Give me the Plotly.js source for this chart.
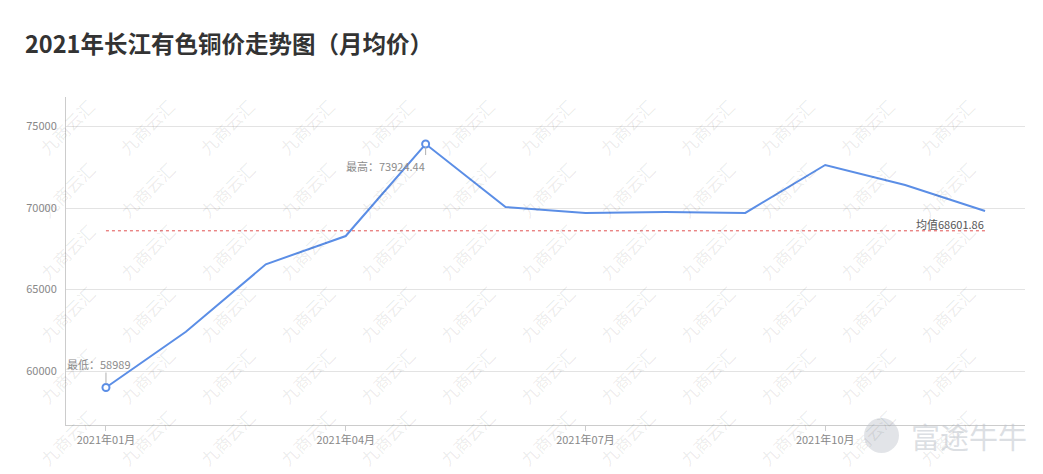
<!DOCTYPE html>
<html>
<head>
<meta charset="utf-8">
<script src="https://cdn.plot.ly/plotly-3.0.1.min.js"></script>
<style>
html,body{margin:0;padding:0;background:#fff;}
#chart{width:1043px;height:474px;}
</style>
</head>
<body>
<div id="chart"></div>
<script>
var months = ["2021年01月","2021年02月","2021年03月","2021年04月","2021年05月","2021年06月","2021年07月","2021年08月","2021年09月","2021年10月","2021年11月","2021年12月"];
var prices = [58989, 62405, 66546, 68282, 73924.44, 70060, 69700, 69750, 69700, 72638, 71411, 69816];
var tickLabels = ["2021年01月","2021年04月","2021年07月","2021年10月"];
var yTicks = [60000, 65000, 70000, 75000];
var meanValue = 68601.86;
var minLabel = "最低：58989";
var maxLabel = "最高：73924.44";
var meanLabel = "均值68601.86";
var watermarkText = "九商云汇";
var brandText = "富途牛牛";

var FONT = '"Noto Sans CJK SC", "Noto Sans", sans-serif';
var L = 66, R = 1025, T = 97, B = 425, W = 1043, H = 474;
function px(x){ return (x - L) / (R - L); }
function py(y){ return (B - y) / (B - T); }

var minIdx = 0, maxIdx = 0;
for (var i = 1; i < prices.length; i++) {
  if (prices[i] < prices[minIdx]) minIdx = i;
  if (prices[i] > prices[maxIdx]) maxIdx = i;
}

var traces = [
  {
    x: months, y: prices, type: 'scatter', mode: 'lines',
    line: {color: '#5b8ee6', width: 2},
    hoverinfo: 'skip', showlegend: false
  },
  {
    x: [months[minIdx], months[maxIdx]], y: [prices[minIdx], prices[maxIdx]],
    type: 'scatter', mode: 'markers',
    marker: {symbol: 'circle', size: 7, color: '#ffffff', line: {color: '#5b8ee6', width: 2}},
    hoverinfo: 'skip', showlegend: false
  }
];

var annotations = [];
// watermark grid
for (var j = 0; j <= 5; j++) {
  for (var k = 0; k <= 11; k++) {
    var cx = 67 + 80 * k, cy = 127 + 62 * j;
    annotations.push({
      xref: 'paper', yref: 'paper', x: px(cx), y: py(cy),
      text: watermarkText, showarrow: false, textangle: -45,
      font: {family: FONT, size: 17, color: 'rgba(0,0,0,0.085)'},
      xanchor: 'center', yanchor: 'middle'
    });
  }
}
annotations.push(
  {
    x: months[maxIdx], y: prices[maxIdx], xref: 'x', yref: 'y',
    text: maxLabel, showarrow: false, xanchor: 'right', yanchor: 'middle',
    xshift: 1, yshift: -22,
    font: {family: FONT, size: 11, color: '#8c8c8c'}
  },
  {
    x: months[minIdx], y: prices[minIdx], xref: 'x', yref: 'y',
    text: minLabel, showarrow: false, xanchor: 'left', yanchor: 'middle',
    xshift: -41, yshift: 24,
    font: {family: FONT, size: 11, color: '#8c8c8c'}
  },
  {
    x: months[months.length - 1], y: meanValue, xref: 'x', yref: 'y',
    text: meanLabel, showarrow: false, xanchor: 'right', yanchor: 'middle',
    xshift: 1, yshift: 7,
    font: {family: FONT, size: 11, color: '#555555'}
  },
  {
    xref: 'paper', yref: 'paper', x: px(969), y: py(436),
    text: brandText, showarrow: false, xanchor: 'center', yanchor: 'middle',
    font: {family: FONT, size: 29, color: 'rgba(190,196,204,0.55)'}
  }
);

var shapes = [
  {
    type: 'line', xref: 'x', yref: 'y',
    x0: months[0], x1: months[months.length - 1], y0: meanValue, y1: meanValue,
    line: {color: '#e05050', width: 1, dash: '3px,3px'}
  },
  {
    type: 'line', xref: 'x', yref: 'y', ysizemode: 'pixel', yanchor: prices[maxIdx],
    x0: months[maxIdx], x1: months[maxIdx], y0: -3, y1: -11,
    line: {color: '#b0b0b0', width: 1}
  },
  {
    type: 'line', xref: 'x', yref: 'y', ysizemode: 'pixel', yanchor: prices[minIdx],
    x0: months[minIdx], x1: months[minIdx], y0: 4, y1: 15,
    line: {color: '#b0b0b0', width: 1}
  },
  {
    type: 'circle', xref: 'paper', yref: 'paper',
    x0: px(864), x1: px(899), y0: py(453), y1: py(418),
    fillcolor: 'rgba(190,196,204,0.45)', line: {width: 0}, layer: 'above'
  }
];

var layout = {
  width: W, height: H,
  margin: {l: L, r: W - R, t: T, b: H - B},
  paper_bgcolor: '#ffffff', plot_bgcolor: '#ffffff',
  title: {
    text: '<b>2021年长江有色铜价走势图（月均价）</b>',
    xref: 'container', yref: 'container',
    x: 25 / W, xanchor: 'left', y: 1 - 45 / H, yanchor: 'middle',
    font: {family: FONT, size: 23.5, color: '#333333'}
  },
  xaxis: {
    type: 'category', range: [-0.5, months.length - 0.5],
    tickmode: 'array', tickvals: tickLabels, ticktext: tickLabels,
    showgrid: false, zeroline: false,
    showline: true, linecolor: '#cccccc', linewidth: 1,
    ticks: 'outside', ticklen: 5, tickcolor: '#cccccc',
    tickfont: {family: FONT, size: 11, color: '#888888'}
  },
  yaxis: {
    range: [56690, 76810], tickmode: 'array', tickvals: yTicks, tickformat: 'd',
    showgrid: true, gridcolor: '#e3e3e3', gridwidth: 1, zeroline: false,
    showline: true, linecolor: '#cccccc', linewidth: 1,
    ticks: '', ticklabelstandoff: 6,
    tickfont: {family: FONT, size: 11, color: '#888888'}
  },
  annotations: annotations,
  shapes: shapes,
  showlegend: false,
  hovermode: false
};

Plotly.newPlot('chart', traces, layout, {displayModeBar: false, staticPlot: true});
</script>
</body>
</html>
